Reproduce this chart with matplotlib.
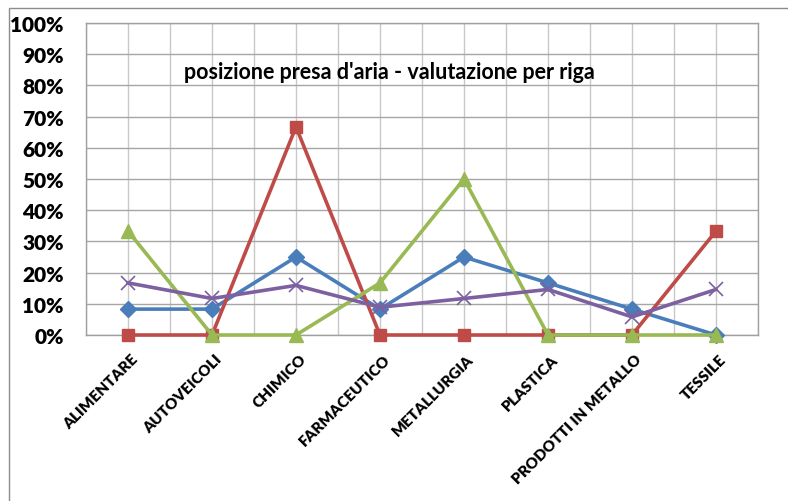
import matplotlib
matplotlib.use("Agg")
import matplotlib.pyplot as plt
from matplotlib.patches import Rectangle
from matplotlib.ticker import PercentFormatter, MultipleLocator
import matplotlib.transforms as mtransforms

plt.rcParams['font.family'] = ['Lato', 'DejaVu Sans']

categories = ["ALIMENTARE", "AUTOVEICOLI", "CHIMICO", "FARMACEUTICO",
              "METALLURGIA", "PLASTICA", "PRODOTTI IN METALLO", "TESSILE"]

serie_blu = [8.3, 8.3, 25.0, 8.3, 25.0, 16.7, 8.3, 0.0]
serie_rossa = [0.0, 0.0, 66.7, 0.0, 0.0, 0.0, 0.0, 33.3]
serie_verde = [33.3, 0.0, 0.0, 16.7, 50.0, 0.0, 0.0, 0.0]
serie_viola = [16.7, 11.7, 15.9, 8.9, 11.7, 14.6, 5.8, 14.6]

title = "posizione presa d'aria - valutazione per riga"

W, H = 788, 502
fig = plt.figure(figsize=(W / 100, H / 100), dpi=100)

# outer chart border
fig.patches.append(Rectangle((9 / W, -0.1), 1.2, 1 - 9 / H + 0.1,
                             transform=fig.transFigure, fill=False,
                             edgecolor="#8c8c8c", linewidth=1.0))

ax = fig.add_axes([86 / W, 1 - 336 / H, (758 - 86) / W, (336 - 24) / H])

x = list(range(len(categories)))
style = dict(linewidth=2.6, clip_on=False, zorder=3)
ax.plot(x, serie_blu, color="#4A7EBB", marker="D", markersize=8, **style)
ax.plot(x, serie_rossa, color="#BE4B48", marker="s", markersize=9, **style)
ax.plot(x, serie_verde, color="#98B954", marker="^", markersize=10, **style)
ax.plot(x, serie_viola, color="#7D60A0", marker="x", markersize=10,
        markeredgewidth=1.2, **style)

ax.set_xlim(-0.5, len(categories) - 0.5)
ax.set_ylim(0, 100)
ax.yaxis.set_major_locator(MultipleLocator(10))
ax.yaxis.set_major_formatter(PercentFormatter(decimals=0))
ax.xaxis.set_minor_locator(MultipleLocator(0.5))
ax.set_xticks(x)
ax.grid(True, which="both", axis="x", color="#c8c8c8", linewidth=1.0)
ax.grid(True, which="major", axis="y", color="#a6a6a6", linewidth=1.0)
ax.set_axisbelow(True)
for s in ax.spines.values():
    s.set_color("#a0a0a0")
    s.set_linewidth(1.0)

ax.tick_params(axis="both", which="both", length=0)
ax.tick_params(axis="y", pad=16)
for lab in ax.get_yticklabels():
    lab.set_fontweight("heavy")
    lab.set_fontsize(15)

ax.set_xticklabels(categories, rotation=45, ha="right", va="top",
                   rotation_mode="anchor", fontsize=11, fontweight="heavy")
offset = mtransforms.ScaledTranslation(3 / 100, -12 / 100, fig.dpi_scale_trans)
for lab in ax.get_xticklabels():
    lab.set_transform(lab.get_transform() + offset)

ax.text(0.451, 0.845, title, transform=ax.transAxes, ha="center", va="center",
        fontsize=15.5, fontweight="bold")

fig.savefig("out.png", dpi=100)
